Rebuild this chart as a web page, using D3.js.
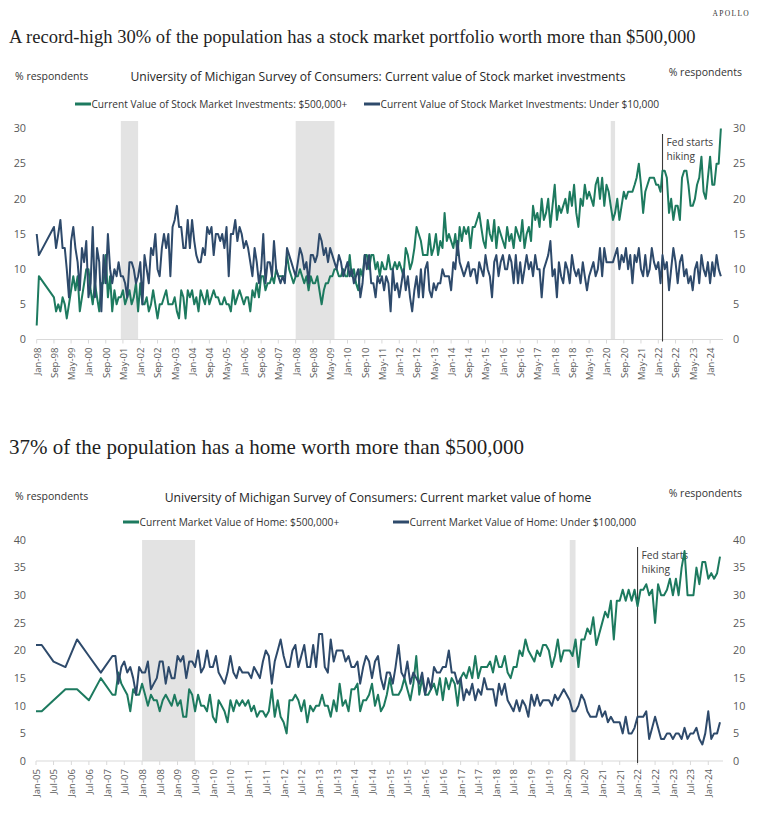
<!DOCTYPE html>
<html><head><meta charset="utf-8">
<script src="https://cdn.jsdelivr.net/npm/d3@7"></script>
<style>
body{margin:0;background:#fff;}
svg{display:block;}
</style></head><body>
<svg id="c" width="758" height="816"></svg>
<script>
// ---------------- DATA ----------------
const greenColor = "#1d7a5f";
const navyColor = "#2e4a6b";

// Chart 1: stock market investments (% respondents)
const stockEarlyMonths = ["1998-01", "1998-02"];
const stockEarlyHigh = [2, 9];
const stockEarlyLow = [15, 12];
const stockMonthlyStart = "1998-09";
const stockHigh = [
  6, 4, 5, 4,
  6, 5, 3, 5, 7, 9, 7, 9, 4, 6, 8, 10,
  10, 7, 5, 8, 6, 4, 8, 8, 12, 6, 9, 4,
  7, 5, 6, 6, 7, 5, 6, 7, 5, 6, 8, 4,
  8, 5, 5, 6, 4, 5, 7, 5, 3, 5, 5, 6,
  7, 5, 5, 5, 6, 4, 3, 7, 6, 3, 7, 6,
  7, 5, 6, 4, 7, 6, 5, 7, 5, 6, 7, 6,
  6, 5, 5, 6, 5, 5, 4, 7, 5, 6, 7, 6,
  5, 6, 6, 4, 7, 6, 8, 6, 9, 9, 7, 8,
  8, 9, 8, 10, 9, 9, 9, 9, 12, 10, 9, 8,
  9, 9, 10, 9, 8, 9, 7, 9, 8, 8, 9, 7,
  5, 7, 8, 8, 9, 9, 10, 10, 9, 9, 10, 9,
  9, 12, 9, 10, 8, 7, 10, 9, 12, 12, 10, 12,
  12, 10, 11, 9, 11, 10, 10, 12, 10, 10, 11, 10,
  11, 10, 9, 13, 12, 10, 11, 13, 16, 15, 14, 12,
  12, 12, 15, 12, 13, 15, 12, 14, 13, 18, 14, 15,
  14, 13, 15, 12, 16, 14, 16, 15, 16, 13, 16, 16,
  17, 18, 16, 14, 13, 17, 15, 14, 17, 13, 16, 15,
  14, 13, 16, 14, 15, 13, 16, 15, 14, 17, 13, 15,
  16, 14, 19, 17, 18, 16, 20, 17, 18, 20, 16, 19,
  22, 17, 19, 18, 19, 20, 18, 21, 19, 22, 18, 16,
  20, 19, 22, 20, 21, 20, 19, 22, 23, 20, 23, 19,
  22, 21, 19, 17, 18, 20, 17, 19, 21, 20, 21, 21,
  21, 22, 23, 25, 22, 18, 21, 22, 23, 23, 23, 22,
  22, 21, 24, 24, 23, 18, 20, 17, 19, 19, 17, 23,
  24, 24, 22, 19, 19, 20, 22, 23, 26, 21, 20, 23,
  26, 22, 22, 25, 25, 30
];
const stockLow = [
  16, 13, 15, 17,
  13, 13, 10, 6, 14, 16, 13, 11, 7, 13, 11, 14,
  6, 8, 16, 6, 13, 11, 4, 12, 8, 15, 10, 8,
  10, 9, 11, 9, 9, 8, 6, 11, 11, 10, 8, 9,
  11, 5, 12, 10, 8, 13, 12, 15, 10, 9, 13, 15,
  13, 15, 9, 16, 17, 19, 16, 16, 13, 13, 17, 13,
  17, 14, 12, 11, 11, 13, 12, 16, 15, 16, 12, 15,
  15, 14, 15, 13, 16, 9, 15, 15, 17, 14, 16, 15,
  13, 14, 13, 11, 9, 13, 11, 8, 10, 15, 8, 11,
  11, 9, 14, 10, 9, 8, 9, 8, 13, 12, 11, 10,
  9, 11, 13, 12, 10, 11, 8, 12, 12, 11, 12, 15,
  14, 12, 13, 11, 13, 12, 11, 10, 12, 11, 9, 10,
  11, 9, 10, 8, 9, 10, 6, 8, 12, 10, 12, 8,
  8, 6, 9, 8, 9, 7, 9, 8, 4, 10, 7, 8,
  6, 8, 10, 7, 9, 6, 4, 7, 9, 6, 10, 6,
  10, 11, 7, 6, 8, 7, 8, 8, 10, 9, 9, 9,
  7, 11, 10, 14, 11, 10, 9, 10, 11, 9, 10, 10,
  8, 11, 10, 9, 12, 10, 9, 6, 11, 12, 9, 11,
  12, 10, 10, 12, 11, 8, 12, 8, 11, 8, 10, 12,
  10, 11, 9, 12, 10, 10, 6, 10, 11, 12, 14, 9,
  10, 6, 11, 9, 8, 11, 10, 8, 12, 10, 9, 10,
  8, 11, 9, 7, 9, 10, 11, 9, 10, 13, 9, 13,
  11, 11, 11, 11, 12, 13, 10, 12, 11, 13, 10, 12,
  8, 12, 11, 13, 10, 9, 12, 9, 10, 13, 11, 10,
  11, 8, 12, 10, 11, 7, 10, 13, 11, 8, 11, 12,
  9, 10, 8, 9, 7, 10, 11, 8, 12, 10, 9, 11,
  8, 11, 9, 12, 10, 9
];
const stockTickLabels = ["Jan-98","Sep-98","May-99","Jan-00","Sep-00","May-01","Jan-02","Sep-02","May-03","Jan-04","Sep-04","May-05","Jan-06","Sep-06","May-07","Jan-08","Sep-08","May-09","Jan-10","Sep-10","May-11","Jan-12","Sep-12","May-13","Jan-14","Sep-14","May-15","Jan-16","Sep-16","May-17","Jan-18","Sep-18","May-19","Jan-20","Sep-20","May-21","Jan-22","Sep-22","May-23","Jan-24"];
const stockYTicks = [0, 5, 10, 15, 20, 25, 30];
const stockRecessions = [["2001-04", "2001-12"], ["2008-01", "2009-07"], ["2020-03", "2020-05"]];
const stockFed = "2022-03";

// Chart 2: home value (% respondents)
const homeEarlyMonths = ["2005-01", "2005-03", "2005-07", "2005-11", "2006-03", "2006-07", "2006-11", "2007-03"];
const homeEarlyHigh = [9, 9, 11, 13, 13, 11, 15, 12];
const homeEarlyLow = [21, 21, 18, 17, 22, 19, 16, 19];
const homeMonthlyStart = "2007-04";
const homeHigh = [
  12, 16, 14, 13, 12, 9, 13, 12, 12,
  14, 12, 10, 12, 11, 11, 9, 11, 12, 11, 10, 12,
  10, 11, 8, 8, 13, 12, 9, 12, 10, 10, 9, 12,
  8, 7, 11, 10, 9, 7, 11, 9, 11, 10, 11, 10,
  11, 9, 10, 8, 9, 9, 8, 9, 13, 8, 11, 8,
  7, 5, 11, 11, 12, 11, 9, 11, 7, 10, 9, 10,
  10, 12, 10, 10, 8, 11, 9, 14, 10, 11, 9, 13,
  13, 14, 9, 11, 11, 12, 14, 10, 12, 9, 10, 12,
  15, 12, 12, 12, 13, 15, 13, 11, 14, 19, 12, 15,
  12, 12, 13, 14, 12, 15, 11, 15, 13, 15, 14, 10,
  15, 16, 15, 17, 15, 19, 15, 17, 17, 17, 18, 16,
  19, 17, 17, 19, 16, 15, 17, 17, 20, 19, 22, 20,
  19, 18, 20, 19, 21, 21, 20, 17, 19, 22, 18, 20,
  20, 20, 19, 22, 17, 22, 22, 24, 23, 26, 21, 23,
  25, 27, 26, 29, 22, 29, 29, 31, 29, 31, 29, 31,
  28, 31, 31, 32, 30, 31, 25, 32, 30, 30, 31, 33,
  30, 33, 30, 35, 38, 30, 30, 30, 35, 32, 36, 36,
  33, 34, 33, 34, 37
];
const homeLow = [
  19, 14, 17, 18, 16, 17, 15, 12, 17,
  16, 16, 18, 13, 14, 15, 18, 18, 14, 17, 15, 15,
  19, 18, 19, 15, 18, 18, 17, 20, 16, 17, 20, 17,
  17, 19, 16, 15, 14, 16, 19, 16, 15, 17, 16, 16,
  16, 15, 17, 16, 15, 18, 20, 19, 14, 18, 20, 22,
  19, 17, 17, 20, 21, 17, 19, 21, 17, 17, 21, 17,
  23, 23, 17, 16, 22, 18, 20, 20, 20, 18, 19, 17,
  17, 18, 14, 17, 19, 18, 15, 18, 19, 15, 13, 16,
  16, 14, 17, 21, 16, 15, 18, 14, 16, 15, 14, 16,
  12, 15, 13, 17, 16, 16, 17, 17, 20, 16, 16, 14,
  15, 11, 13, 12, 14, 11, 13, 12, 15, 13, 13, 13,
  10, 14, 12, 14, 11, 10, 9, 11, 9, 11, 10, 8,
  12, 10, 12, 10, 11, 11, 11, 10, 12, 11, 12, 13,
  12, 11, 9, 9, 10, 12, 11, 9, 8, 8, 8, 10,
  8, 9, 7, 8, 7, 7, 7, 5, 8, 5, 5, 6,
  8, 8, 8, 9, 4, 6, 8, 6, 4, 4, 5, 5,
  4, 5, 5, 4, 6, 4, 5, 5, 6, 4, 3, 5,
  9, 4, 5, 5, 7
];
const homeTickLabels = ["Jan-05","Jul-05","Jan-06","Jul-06","Jan-07","Jul-07","Jan-08","Jul-08","Jan-09","Jul-09","Jan-10","Jul-10","Jan-11","Jul-11","Jan-12","Jul-12","Jan-13","Jul-13","Jan-14","Jul-14","Jan-15","Jul-15","Jan-16","Jul-16","Jan-17","Jul-17","Jan-18","Jul-18","Jan-19","Jul-19","Jan-20","Jul-20","Jan-21","Jul-21","Jan-22","Jul-22","Jan-23","Jul-23","Jan-24"];
const homeYTicks = [0, 5, 10, 15, 20, 25, 30, 35, 40];
const homeRecessions = [["2008-01", "2009-07"], ["2020-02", "2020-04"]];
const homeFed = "2022-01";

// ---------------- DRAWING ----------------
const parseMonth = d3.utcParse("%Y-%m");
const parseLabel = d3.utcParse("%b-%y");
const SANS = "'Open Sans', 'Noto Sans', sans-serif";
const SERIF = "'Liberation Serif', 'DejaVu Serif', serif";

function buildSeries(earlyMonths, earlyVals, start, vals) {
  const a = earlyMonths.map((m, i) => ({date: parseMonth(m), value: earlyVals[i]}));
  const s = parseMonth(start);
  return a.concat(vals.map((v, i) => ({date: d3.utcMonth.offset(s, i), value: v})));
}

function fitWidth(sel, w) {
  const fs = parseFloat(sel.attr("font-size"));
  const l = sel.node().getComputedTextLength();
  if (l > 0) sel.attr("font-size", (fs * w / l).toFixed(2));
}

const svg = d3.select("#c");

// brand
svg.append("text").attr("x", 750).attr("y", 16).attr("text-anchor", "end")
  .attr("font-family", SERIF).attr("font-size", 7.5).attr("letter-spacing", 1.3)
  .attr("fill", "#333").text("APOLLO");

function drawChart(cfg) {
  const g = svg.append("g");
  const x = d3.scaleUtc().domain(cfg.xDomain).range([cfg.x0, cfg.x1]);
  const y = d3.scaleLinear().domain([0, cfg.yMax]).range([cfg.yBottom, cfg.yTop]);

  // main title
  const t = g.append("text").attr("x", 9).attr("y", cfg.titleY)
    .attr("font-family", SERIF).attr("font-size", 20).attr("fill", "#1f1f1f").text(cfg.title);
  fitWidth(t, cfg.titleW);

  // unit labels
  g.append("text").attr("x", 15).attr("y", cfg.unitYL).attr("font-family", SANS)
    .attr("font-size", 10.5).attr("fill", "#333").text("% respondents");
  g.append("text").attr("x", 742).attr("y", cfg.unitYR).attr("text-anchor", "end").attr("font-family", SANS)
    .attr("font-size", 10.5).attr("fill", "#333").text("% respondents");

  // chart title
  const ct = g.append("text").attr("x", 378).attr("y", cfg.chartTitleY).attr("text-anchor", "middle")
    .attr("font-family", SANS).attr("font-size", 12).attr("fill", "#262626").text(cfg.chartTitle);
  fitWidth(ct, cfg.chartTitleW);

  // legend
  cfg.legend.forEach(L => {
    g.append("line").attr("x1", L.x).attr("x2", L.x + 16).attr("y1", cfg.legendY).attr("y2", cfg.legendY)
      .attr("stroke", L.color).attr("stroke-width", 3);
    const lt = g.append("text").attr("x", L.x + 16.5).attr("y", cfg.legendY + 3.6)
      .attr("font-family", SANS).attr("font-size", 10).attr("fill", "#333").text(L.label);
    fitWidth(lt, L.w);
  });

  // recession shading
  g.selectAll(null).data(cfg.recessions).join("rect")
    .attr("x", d => x(parseMonth(d[0])))
    .attr("width", d => x(parseMonth(d[1])) - x(parseMonth(d[0])))
    .attr("y", cfg.shadeTop).attr("height", cfg.yBottom - cfg.shadeTop)
    .attr("fill", "#e3e3e3");

  // x axis line & ticks
  g.append("line").attr("x1", cfg.x0).attr("x2", cfg.x1).attr("y1", cfg.yBottom).attr("y2", cfg.yBottom)
    .attr("stroke", "#d9d9d9").attr("stroke-width", 1);
  const tickDates = cfg.tickLabels.map(s => parseLabel(s));
  g.selectAll(null).data(tickDates).join("line")
    .attr("x1", d => x(d)).attr("x2", d => x(d))
    .attr("y1", cfg.yBottom).attr("y2", cfg.yBottom + 4)
    .attr("stroke", "#d9d9d9");
  g.selectAll(null).data(cfg.tickLabels).join("text")
    .attr("transform", d => `translate(${x(parseLabel(d)) + 0.5},${cfg.yBottom + 8}) rotate(-90)`)
    .attr("text-anchor", "end").attr("dy", "0.35em")
    .attr("font-family", SANS).attr("font-size", 9.6).attr("fill", "#595959")
    .text(d => d);

  // y axes labels (left & right)
  g.selectAll(null).data(cfg.yTicks).join("text")
    .attr("x", 26).attr("y", d => y(d)).attr("dy", "0.35em").attr("text-anchor", "end")
    .attr("font-family", SANS).attr("font-size", 10.8).attr("fill", "#595959").text(d => d);
  g.selectAll(null).data(cfg.yTicks).join("text")
    .attr("x", 733).attr("y", d => y(d)).attr("dy", "0.35em").attr("text-anchor", "start")
    .attr("font-family", SANS).attr("font-size", 10.8).attr("fill", "#595959").text(d => d);

  // fed line
  const fx = x(parseMonth(cfg.fed));
  g.append("line").attr("x1", fx).attr("x2", fx).attr("y1", cfg.fedTop).attr("y2", cfg.yBottom + 2)
    .attr("stroke", "#3a3a3a").attr("stroke-width", 1.1);
  g.append("text").attr("x", fx + 4).attr("y", cfg.fedTop + 12).attr("font-family", SANS)
    .attr("font-size", 10.2).attr("fill", "#404040").text("Fed starts");
  g.append("text").attr("x", fx + 4).attr("y", cfg.fedTop + 25.5).attr("font-family", SANS)
    .attr("font-size", 10.2).attr("fill", "#404040").text("hiking");

  // lines
  const line = d3.line().x(d => x(d.date)).y(d => y(d.value));
  cfg.series.forEach(s => {
    g.append("path").datum(s.data).attr("d", line)
      .attr("fill", "none").attr("stroke", s.color).attr("stroke-width", 2)
      .attr("stroke-linejoin", "round");
  });
}

drawChart({
  title: "A record-high 30% of the population has a stock market portfolio worth more than $500,000",
  titleY: 43, titleW: 687,
  unitYL: 80, unitYR: 76,
  chartTitle: "University of Michigan Survey of Consumers: Current value of Stock market investments",
  chartTitleY: 81, chartTitleW: 496,
  legendY: 104,
  legend: [
    {x: 75, color: greenColor, label: "Current Value of Stock Market Investments: $500,000+", w: 256},
    {x: 364, color: navyColor, label: "Current Value of Stock Market Investments: Under $10,000", w: 279}
  ],
  xDomain: [parseMonth("1998-01"), parseMonth("2024-07")],
  x0: 36.7, x1: 723,
  yMax: 30, yBottom: 339.5, yTop: 128.5, yTicks: stockYTicks,
  shadeTop: 121,
  tickLabels: stockTickLabels,
  recessions: stockRecessions,
  fed: stockFed, fedTop: 134,
  series: [
    {color: greenColor, data: buildSeries(stockEarlyMonths, stockEarlyHigh, stockMonthlyStart, stockHigh)},
    {color: navyColor, data: buildSeries(stockEarlyMonths, stockEarlyLow, stockMonthlyStart, stockLow)}
  ]
});

drawChart({
  title: "37% of the population has a home worth more than $500,000",
  titleY: 454, titleW: 515,
  unitYL: 500, unitYR: 497,
  chartTitle: "University of Michigan Survey of Consumers: Current market value of home",
  chartTitleY: 501.5, chartTitleW: 427,
  legendY: 522,
  legend: [
    {x: 123, color: greenColor, label: "Current Market Value of Home: $500,000+", w: 200},
    {x: 393, color: navyColor, label: "Current Market Value of Home: Under $100,000", w: 227}
  ],
  xDomain: [parseMonth("2005-01"), parseMonth("2024-06")],
  x0: 36, x1: 723,
  yMax: 40, yBottom: 761, yTop: 540, yTicks: homeYTicks,
  shadeTop: 540,
  tickLabels: homeTickLabels,
  recessions: homeRecessions,
  fed: homeFed, fedTop: 547,
  series: [
    {color: greenColor, data: buildSeries(homeEarlyMonths, homeEarlyHigh, homeMonthlyStart, homeHigh)},
    {color: navyColor, data: buildSeries(homeEarlyMonths, homeEarlyLow, homeMonthlyStart, homeLow)}
  ]
});
</script></body></html>
